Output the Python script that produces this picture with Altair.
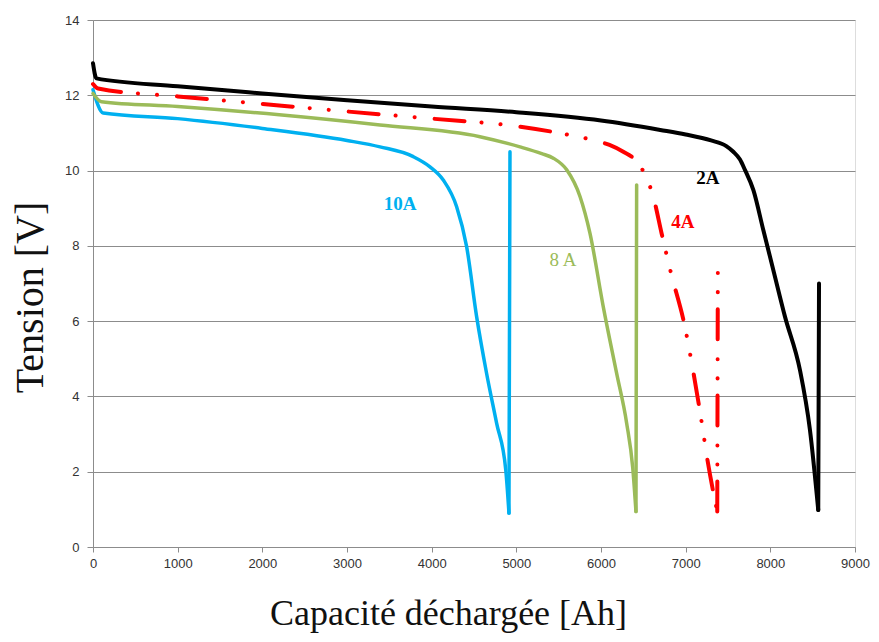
import altair as alt
import pandas as pd

# 2A (black)
cap_2a = [0, 40, 1000, 2000, 3000, 4000, 5000, 6000, 6700, 7000, 7300, 7480, 7563, 7640, 7700, 7800,
          7917, 8035, 8173, 8350, 8468, 8566, 8575]
v_2a = [12.85, 12.45, 12.24, 12.05, 11.87, 11.7, 11.55, 11.33, 11.08, 10.96, 10.8, 10.65, 10.5, 10.3,
        10.02, 9.48, 8.42, 7.36, 6.12, 4.70, 3.11, 0.98, 7.0]

# 4A (red, dash-dot-dot)
cap_4a = [0, 60, 1000, 2000, 3000, 4000, 5000, 5500, 5870, 6100, 6263, 6421, 6539, 6617, 6716, 6823,
          6991, 7077, 7188, 7259, 7373, 7380]
v_4a = [12.3, 12.18, 11.97, 11.77, 11.57, 11.38, 11.18, 11.0, 10.83, 10.68, 10.5, 10.24, 9.8, 9.31,
        8.33, 7.31, 5.85, 4.82, 3.33, 2.29, 0.94, 7.3]

# 8A (green)
cap_8a = [0, 100, 1000, 2200, 3390, 4570, 5043, 5300, 5437, 5595, 5752, 5870, 6027, 6185, 6303, 6375,
          6413, 6421]
v_8a = [12.05, 11.83, 11.7, 11.48, 11.21, 10.9, 10.63, 10.45, 10.33, 10.02, 9.31, 8.33, 6.38, 4.61,
        3.29, 2.1, 0.94, 9.62]

# 10A (blue)
cap_10a = [0, 120, 1000, 2000, 3000, 3390, 3783, 3980, 4137, 4295, 4413, 4531, 4649, 4767, 4875, 4913,
           4925]
v_10a = [12.15, 11.53, 11.38, 11.12, 10.8, 10.63, 10.37, 10.1, 9.75, 9.04, 7.98, 6.12, 4.61, 3.29, 2.05,
         0.9, 10.5]

label_text = ["2A", "4A", "8 A", "10A"]
label_cap = [7263, 6968, 5551, 3626]
label_v = [9.80, 8.63, 7.62, 9.11]
label_color = ["#000000", "#FF0000", "#9BBB59", "#00B0F0"]
label_weight = ["bold", "bold", "normal", "bold"]

x_ticks = list(range(0, 9001, 1000))
y_ticks = list(range(0, 15, 2))

LABEL_FONT = "Liberation Sans"

x_enc = alt.X(
    "cap:Q",
    scale=alt.Scale(domain=[0, 9000], nice=False),
    axis=alt.Axis(
        values=x_ticks, format="d", grid=False, tickSize=5, labelPadding=5, labelFlush=False,
        domainColor="#8c8c8c", tickColor="#8c8c8c",
        labelFont=LABEL_FONT, labelFontSize=13, labelColor="#333333",
        title="Capacité déchargée [Ah]", titleFont="Liberation Serif", titleFontSize=36,
        titleFontWeight="normal", titleColor="#111111", titleX=355, titleY=77,
        titleAlign="center", titleBaseline="alphabetic",
    ),
)
y_enc = alt.Y(
    "v:Q",
    scale=alt.Scale(domain=[0, 14], nice=False),
    axis=alt.Axis(
        values=y_ticks, grid=True, gridColor="#8c8c8c", gridWidth=1.2, tickSize=6, labelPadding=8,
        domainColor="#8c8c8c", tickColor="#8c8c8c",
        labelFont=LABEL_FONT, labelFontSize=13, labelColor="#333333",
        title="Tension [V]", titleFont="Liberation Serif", titleFontSize=40, titleFontWeight="normal",
        titleColor="#111111", titleX=-63, titleY=277, titleAngle=-90,
        titleAlign="center", titleBaseline="middle",
    ),
)


def line(caps, vs, color, width, interp, dash=None):
    df = pd.DataFrame({"cap": caps, "v": vs, "idx": range(len(caps))})
    kw = dict(color=color, strokeWidth=width, strokeCap="round", strokeJoin="round", interpolate=interp)
    if dash is not None:
        kw["strokeDash"] = dash
    return alt.Chart(df).mark_line(**kw).encode(x=x_enc, y=y_enc, order="idx:Q")


def series(caps, vs, color, width, dash=None):
    # smooth discharge curve, then straight recovery segment
    return [
        line(caps[:-1], vs[:-1], color, width, "monotone", dash),
        line(caps[-2:], vs[-2:], color, width, "linear", dash),
    ]


layers = []
layers += series(cap_10a, v_10a, "#00B0F0", 3.5)
layers += series(cap_8a, v_8a, "#9BBB59", 3.5)
layers += series(cap_2a, v_2a, "#000000", 4)
layers += series(cap_4a, v_4a, "#FF0000", 4, [30, 17, 0.1, 19, 0.1, 20])

labels = pd.DataFrame({"t": label_text, "cap": label_cap, "v": label_v})
for i in range(len(label_text)):
    layers.append(
        alt.Chart(labels.iloc[[i]]).mark_text(
            font="Liberation Serif", fontSize=19, fontWeight=label_weight[i],
            color=label_color[i], align="center", baseline="middle",
        ).encode(x=alt.X("cap:Q"), y=alt.Y("v:Q"), text="t:N")
    )

chart = alt.layer(*layers).properties(
    width=762, height=527,
    padding={"left": 85, "top": 12, "right": 16, "bottom": 87},
    autosize=alt.AutoSizeParams(type="none"),
).configure_view(stroke=None).configure(background="white")

chart.save("out.html", embed_options={"renderer": "svg", "actions": False})
